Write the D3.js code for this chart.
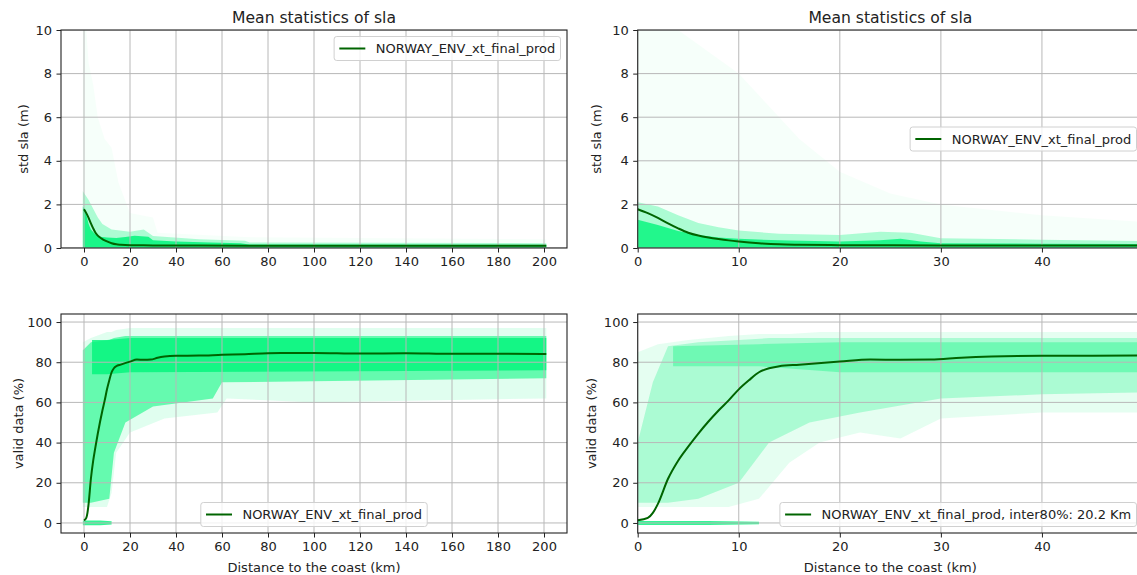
<!DOCTYPE html>
<html>
<head>
<meta charset="utf-8">
<script src="https://cdn.jsdelivr.net/npm/d3@7"></script>
<style>
  body { margin: 0; background: #fff; }
  text { font-family: "DejaVu Sans", sans-serif; fill: #222; }
</style>
</head>
<body>
<div id="chart"></div>
<script>
// ---- data ----
const xTicksFull = [0, 20, 40, 60, 80, 100, 120, 140, 160, 180, 200];
const xTicksZoom = [0, 10, 20, 30, 40];
const stdTicks = [0, 2, 4, 6, 8, 10];
const validTicks = [0, 20, 40, 60, 80, 100];

// mean curves [km, value]
const stdMean = [[0,1.78],[1,1.6],[2,1.38],[3,1.13],[4,0.9],[5,0.7],[6,0.57],[7,0.48],[8,0.41],[9,0.35],[10,0.3],
  [12,0.22],[14,0.17],[16,0.15],[20,0.13],[30,0.12],[50,0.11],[100,0.1],[150,0.1],[201,0.1]];
const validMean = [[0,1.3],[1,2.5],[1.5,5],[2,9.5],[3,22],[4,31],[5,38],[6,44.5],[7,50.5],[8,56],[9,61],[10,66.5],
  [11,71],[12,75],[13,77],[14,78],[16,78.8],[20,80.3],[23,81.3],[26,81.2],[29,81.3],[32,82.2],[35,82.8],[40,83.2],
  [50,83.3],[60,83.7],[70,84],[80,84.5],[100,84.6],[120,84.3],[140,84.5],[160,84.2],[180,84.2],[201,84.1]];

// scatter clouds as envelopes [km, low, high]
const stdFullSparse = [[-0.5,0,10],[1,0,10],[2,0,8.5],[4,0,7.5],[6,0,6],[9,0,5],[12,0,4.6],[15,0,3],[20,0,1.6],
  [30,0,1.4],[32,0,0.7],[70,0,0.5],[201,0,0.4]];
const stdFullMid = [[-0.5,0,2.6],[2,0,2.2],[4,0,1.8],[6,0,1.4],[8,0,1.1],[12,0,0.85],[20,0,0.75],[26,0,0.85],
  [30,0,0.55],[50,0,0.4],[70,0,0.33],[72,0,0.25],[201,0,0.22]];
const stdFullDense = [[-0.5,0,1.9],[0.5,0,1.75],[2,0,1.1],[3,0,0.85],[5,0,0.62],[7,0,0.52],[10,0,0.48],[14,0,0.46],
  [18,0,0.5],[22,0,0.56],[28,0,0.52],[30,0,0.36],[40,0,0.3],[55,0,0.25],[68,0,0.22],[72,0,0.16],[201,0,0.15]];

const stdZoomSparse = [[0,0,10],[4,0,10],[7,0,9],[10,0,8],[13,0,6.5],[16,0,5],[20,0,3.5],[25,0,2.5],[30,0,2],
  [40,0,1.5],[50,0,1.2]];
const stdZoomMid = [[0,0,2.1],[2,0,1.9],[4,0,1.5],[6,0,1.15],[8,0,0.95],[10,0,0.8],[14,0,0.65],[20,0,0.6],
  [24,0,0.75],[27,0,0.7],[30,0,0.45],[40,0,0.38],[50,0,0.32]];
const stdZoomDense = [[0,0,1.3],[2,0,1.05],[4,0,0.78],[6,0,0.6],[8,0,0.48],[10,0,0.42],[15,0,0.34],[20,0,0.3],
  [24,0,0.36],[26,0,0.42],[28,0,0.3],[30,0,0.22],[40,0,0.2],[50,0,0.18]];

const validFullSparse = [[-0.5,8,90],[3,8,92],[10,8,95],[12,15,95],[14,35,96],[20,45,97],[35,52,97],[58,55,97],
  [62,62,97],[100,60,97],[201,62,97]];
const validFullMid = [[-0.5,10,86],[3,10,90],[11,12,91],[13,35,92],[18,50,93],[30,58,93],[56,62,93],[60,70,93],
  [201,72,93]];
const validFullDense = [[3.5,74,91],[10,74,91],[20,75,92],[201,76,92]];
const validFullZero = [[-0.5,-1.2,1.2],[7,-1.2,1.2],[12,-0.8,0.8]];

const validZoomSparse = [[0,8,85],[2,8,89],[5,8,91],[9,8,93],[12,12,94],[15,30,94],[18,40,95],[22,45,95],
  [26,42,95],[30,52,95],[40,55,95],[50,55,95]];
const validZoomMid = [[0,10,40],[1.5,10,70],[3,10,88],[6,12,90],[10,20,91],[13,40,92],[17,50,92],[22,55,92],
  [30,62,92],[40,64,92],[50,65,92]];
const validZoomDense = [[3.5,78,88],[12,78,89],[20,75,90],[50,75,90]];
const validZoomZero = [[0,-1,1],[7,-1,1],[12,-0.6,0.6]];

const title = "Mean statistics of sla";
const seriesName = "NORWAY_ENV_xt_final_prod";
const seriesNameInter = "NORWAY_ENV_xt_final_prod, inter80%: 20.2 Km";

// ---- layout ----
const width = 1137, height = 575;
const scatterColor = "#00f57a", lineColor = "#006400";

const panels = [
  { id: "tl", left: 61, right: 567, top: 30, bottom: 248, xDom: [-10, 210], yDom: [0, 10],
    xTicks: xTicksFull, yTicks: stdTicks, ylabel: "std sla (m)", ylabelX: 23, title: true,
    clouds: [[stdFullSparse, 0.035], [stdFullMid, 0.3], [stdFullDense, 0.85]], mean: stdMean,
    legend: { text: seriesName, anchor: "upper right" } },
  { id: "tr", left: 637.7, right: 1143, top: 30, bottom: 248, xDom: [0, 50], yDom: [0, 10],
    xTicks: xTicksZoom, yTicks: stdTicks, ylabel: "std sla (m)", ylabelX: 596, title: true,
    clouds: [[stdZoomSparse, 0.035], [stdZoomMid, 0.3], [stdZoomDense, 0.8]], mean: stdMean,
    legend: { text: seriesName, anchor: "center right" } },
  { id: "bl", left: 61, right: 567, top: 314, bottom: 533, xDom: [-10, 210], yDom: [-5, 104],
    xTicks: xTicksFull, yTicks: validTicks, ylabel: "valid data (%)", ylabelX: 18, xlabel: true,
    clouds: [[validFullSparse, 0.12], [validFullMid, 0.55], [validFullDense, 0.8], [validFullZero, 0.8]], mean: validMean,
    legend: { text: seriesName, anchor: "lower center" } },
  { id: "br", left: 637.7, right: 1143, top: 314, bottom: 533, xDom: [0, 50], yDom: [-5, 104],
    xTicks: xTicksZoom, yTicks: validTicks, ylabel: "valid data (%)", ylabelX: 591, xlabel: true,
    clouds: [[validZoomSparse, 0.1], [validZoomMid, 0.25], [validZoomDense, 0.35], [validZoomZero, 0.8]], mean: validMean,
    legend: { text: seriesNameInter, anchor: "lower right" } }
];

const svg = d3.select("#chart").append("svg")
  .attr("width", width).attr("height", height);

panels.forEach(drawPanel);

function drawPanel(p) {
  const x = d3.scaleLinear().domain(p.xDom).range([p.left, p.right]);
  const y = d3.scaleLinear().domain(p.yDom).range([p.bottom, p.top]);
  const g = svg.append("g");

  svg.append("clipPath").attr("id", "clip-" + p.id)
    .append("rect").attr("x", p.left).attr("y", p.top)
    .attr("width", p.right - p.left).attr("height", p.bottom - p.top);
  const plot = g.append("g").attr("clip-path", "url(#clip-" + p.id + ")");

  // scatter clouds
  const area = d3.area().x(d => x(d[0])).y0(d => y(d[1])).y1(d => y(d[2]));
  p.clouds.forEach(c => {
    plot.append("path").attr("d", area(c[0]))
      .attr("fill", scatterColor).attr("fill-opacity", c[1]);
  });

  // grid (above scatter, below line)
  plot.append("g").selectAll("line").data(p.xTicks).join("line")
    .attr("x1", d => x(d)).attr("x2", d => x(d))
    .attr("y1", p.top).attr("y2", p.bottom)
    .attr("stroke", "#b8b8b8").attr("stroke-width", 1);
  plot.append("g").selectAll("line").data(p.yTicks).join("line")
    .attr("x1", p.left).attr("x2", p.right)
    .attr("y1", d => y(d)).attr("y2", d => y(d))
    .attr("stroke", "#b8b8b8").attr("stroke-width", 1);

  // mean line
  const line = d3.line().x(d => x(d[0])).y(d => y(d[1])).curve(d3.curveMonotoneX);
  plot.append("path").datum(p.mean).attr("d", line)
    .attr("fill", "none").attr("stroke", lineColor).attr("stroke-width", 2);

  // axes
  const xAxis = g.append("g").attr("transform", `translate(0,${p.bottom})`)
    .call(d3.axisBottom(x).tickValues(p.xTicks).tickSize(4.5).tickPadding(4.5).tickSizeOuter(0));
  const yAxis = g.append("g").attr("transform", `translate(${p.left},0)`)
    .call(d3.axisLeft(y).tickValues(p.yTicks).tickSize(4.5).tickPadding(4.5).tickSizeOuter(0));
  [xAxis, yAxis].forEach(a => {
    a.select(".domain").remove();
    a.selectAll(".tick line").attr("stroke", "#222").attr("stroke-width", 1);
    a.selectAll(".tick text").attr("font-size", 13).attr("fill", "#222")
      .attr("font-family", "DejaVu Sans");
  });

  // spines
  g.append("rect").attr("x", p.left).attr("y", p.top)
    .attr("width", p.right - p.left).attr("height", p.bottom - p.top)
    .attr("fill", "none").attr("stroke", "#222").attr("stroke-width", 1.1);

  const cx = (p.left + p.right) / 2;
  if (p.title) {
    g.append("text").attr("x", cx).attr("y", p.top - 7.5)
      .attr("text-anchor", "middle").attr("font-size", 15.6).text(title);
  }
  if (p.xlabel) {
    g.append("text").attr("x", cx).attr("y", 572)
      .attr("text-anchor", "middle").attr("font-size", 13).text("Distance to the coast (km)");
  }
  g.append("text")
    .attr("transform", `translate(${p.ylabelX},${(p.top + p.bottom) / 2}) rotate(-90)`)
    .attr("text-anchor", "middle").attr("dy", "0.35em").attr("font-size", 13).text(p.ylabel);

  drawLegend(g, p);
}

function drawLegend(g, p) {
  const fs = 13, pad = 5.2, handle = 26, gap = 10.4, h = 24, inset = 6.5;
  const lg = g.append("g");
  const box = lg.append("rect");
  const label = lg.append("text").attr("font-size", fs).text(p.legend.text);
  const tw = label.node().getComputedTextLength();
  const w = pad + handle + gap + tw + pad;
  let bx, by;
  const a = p.legend.anchor;
  if (a === "upper right") { bx = p.right - inset - w; by = p.top + inset; }
  if (a === "center right") { bx = p.right - inset - w; by = (p.top + p.bottom) / 2 - h / 2; }
  if (a === "lower center") { bx = (p.left + p.right) / 2 - w / 2; by = p.bottom - inset - h; }
  if (a === "lower right") { bx = p.right - inset - w; by = p.bottom - inset - h; }
  box.attr("x", bx).attr("y", by).attr("width", w).attr("height", h)
    .attr("rx", 2.6).attr("fill", "#fff").attr("fill-opacity", 0.8)
    .attr("stroke", "#d0d0d0").attr("stroke-width", 1);
  lg.append("line").attr("x1", bx + pad).attr("x2", bx + pad + handle)
    .attr("y1", by + h / 2).attr("y2", by + h / 2)
    .attr("stroke", lineColor).attr("stroke-width", 2);
  label.attr("x", bx + pad + handle + gap).attr("y", by + h / 2).attr("dy", "0.35em");
}
</script>
</body>
</html>
